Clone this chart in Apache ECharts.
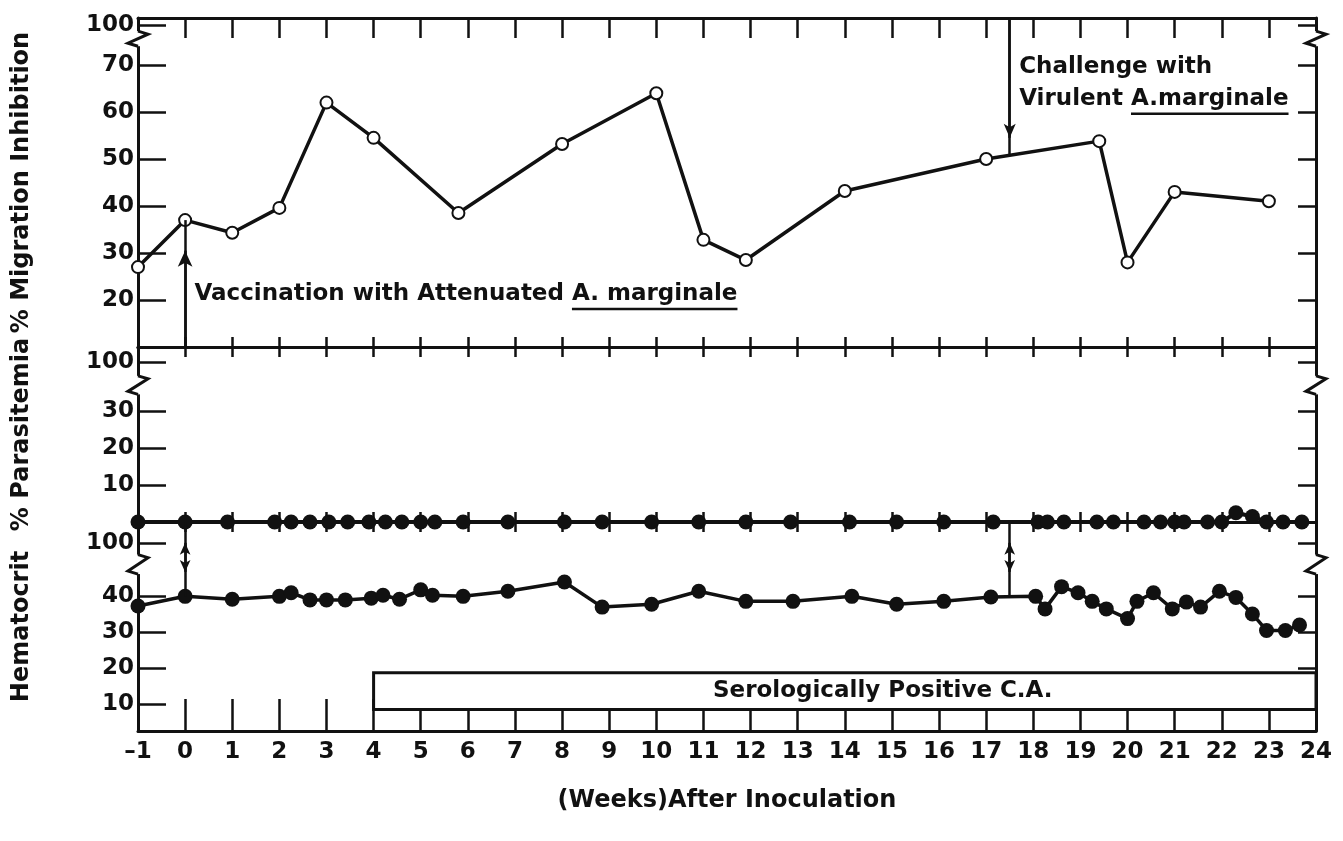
<!DOCTYPE html>
<html><head><meta charset="utf-8">
<script src="https://cdn.jsdelivr.net/npm/echarts@6/dist/echarts.min.js"></script>
<style>html,body{margin:0;padding:0;background:#fff}#c{width:1343px;height:841px}</style>
</head><body><div id="c"></div>
<script>
// ---- data ----
const weekTicks = [-1,0,1,2,3,4,5,6,7,8,9,10,11,12,13,14,15,16,17,18,19,20,21,22,23,24];

const migWeeks  = [-1, 0, 1, 2, 3, 4, 5.8, 8, 10, 11, 11.9, 14, 17, 19.4, 20, 21, 23];
const migValues = [27, 37, 34.3, 39.6, 62, 54.5, 38.5, 53.2, 64, 32.8, 28.5, 43.2, 50, 53.8, 28, 43, 41];

const parWeeks  = [-1, 0, 0.9, 1.9, 2.25, 2.65, 3.05, 3.45, 3.9, 4.25, 4.6, 5, 5.3, 5.9, 6.85, 8.05, 8.85, 9.9, 10.9, 11.9,
                   12.85, 14.1, 15.1, 16.1, 17.15, 18.1, 18.3, 18.65, 19.35, 19.7, 20.35, 20.7, 21, 21.2, 21.7, 22, 22.3, 22.65, 22.95, 23.3, 23.7];
const parValues = [0, 0, 0, 0, 0, 0, 0, 0, 0, 0, 0, 0, 0, 0, 0, 0, 0, 0, 0, 0,
                   0, 0, 0, 0, 0, 0, 0, 0, 0, 0, 0, 0, 0, 0, 0, 0, 2.5, 1.5, 0, 0, 0];

const hctWeeks  = [-1, 0, 1, 2, 2.25, 2.65, 3, 3.4, 3.95, 4.2, 4.55, 5, 5.25, 5.9, 6.85, 8.05, 8.85, 9.9, 10.9, 11.9,
                   12.9, 14.15, 15.1, 16.1, 17.1, 18.05, 18.25, 18.6, 18.95, 19.25, 19.55, 20, 20.2, 20.55, 20.95,
                   21.25, 21.55, 21.95, 22.3, 22.65, 22.95, 23.35, 23.65];
const hctValues = [37.3, 40, 39.2, 40, 41, 39, 39, 39, 39.5, 40.3, 39.2, 41.8, 40.3, 40, 41.4, 44, 37, 37.8, 41.4, 38.6,
                   38.6, 40, 37.8, 38.6, 39.8, 40, 36.5, 42.7, 41, 38.6, 36.5, 33.8, 38.6, 41, 36.5,
                   38.4, 37, 41.4, 39.7, 35.1, 30.5, 30.5, 32];

const migTicks = [20, 30, 40, 50, 60, 70, 78.5];   // 78.5 is the broken-axis "100"
const parTicks = [10, 20, 30, 43.2];               // 43.2 -> "100"
const hctTicks = [10, 20, 30, 40, 54.9];           // 54.9 -> "100"
const serologyStart = 4, serologyEnd = 24;

// ---- chart ----
const FONT = '"DejaVu Sans", sans-serif';
const INK = '#111';
const chart = echarts.init(document.getElementById('c'));
const pairs = (xs, ys) => xs.map((x, i) => [x, ys[i]]);

function xAx(grid, pos, tickLen, showLabel) {
  return {
    type: 'value', gridIndex: grid, position: pos, min: -1, max: 24, interval: 1,
    axisLine: { show: true, onZero: false, lineStyle: { color: INK, width: 3 } },
    axisTick: { show: true, inside: true, length: tickLen, lineStyle: { color: INK, width: 2.5 } },
    axisLabel: showLabel ? {
      show: true, color: INK, fontFamily: FONT, fontWeight: 'bold', fontSize: 23, margin: 10,
      formatter: v => v < 0 ? '\u2013' + Math.abs(v) : String(v)
    } : { show: false },
    splitLine: { show: false }
  };
}
function yAx(grid, pos, min, max, ticks, tickLen, showLabel, name) {
  const top = ticks[ticks.length - 1];
  return {
    type: 'value', gridIndex: grid, position: pos, min: min, max: max,
    name: name || '', nameLocation: 'middle', nameGap: 104,
    nameTextStyle: { color: INK, fontFamily: FONT, fontWeight: 'bold', fontSize: 24 },
    axisLine: { show: true, onZero: false, lineStyle: { color: INK, width: 3 } },
    axisTick: { show: true, inside: true, length: tickLen, customValues: ticks, lineStyle: { color: INK, width: 2.5 } },
    axisLabel: showLabel ? {
      show: true, customValues: ticks, color: INK, fontFamily: FONT, fontWeight: 'bold', fontSize: 23, margin: 4,
      formatter: v => (v === top ? '100' : String(v))
    } : { show: false },
    splitLine: { show: false }
  };
}

const grids = [
  { left: 138, right: 27, top: 18, height: 329 },
  { left: 138, right: 27, top: 347, height: 175 },
  { left: 138, right: 27, top: 522, height: 209 }
];

const lineStyle = { color: INK, width: 3.5 };
const mlStyle = { color: INK, width: 2.5, type: 'solid' };

chart.setOption({
  animation: false,
  backgroundColor: '#fff',
  grid: grids,
  xAxis: [
    xAx(0, 'top', 20, false),
    xAx(0, 'bottom', 10, false),
    xAx(1, 'top', 10, false),
    xAx(1, 'bottom', 10, false),
    xAx(2, 'top', 10, false),
    Object.assign(xAx(2, 'bottom', 32, true), {
      name: '(Weeks)After Inoculation', nameLocation: 'middle', nameGap: 58,
      nameTextStyle: { color: INK, fontFamily: FONT, fontWeight: 'bold', fontSize: 24 }
    })
  ],
  yAxis: [
    yAx(0, 'left', 10, 80, migTicks, 28, true, '% Migration Inhibition'),
    yAx(0, 'right', 10, 80, migTicks, 18, false),
    yAx(1, 'left', 0, 47.3, parTicks, 28, true, '% Parasitemia'),
    yAx(1, 'right', 0, 47.3, parTicks, 18, false),
    yAx(2, 'left', 2.5, 60.7, hctTicks, 28, true, 'Hematocrit'),
    yAx(2, 'right', 2.5, 60.7, hctTicks, 18, false)
  ],
  series: [
    {
      type: 'line', xAxisIndex: 0, yAxisIndex: 0, data: pairs(migWeeks, migValues),
      symbol: 'emptyCircle', symbolSize: 12, clip: false,
      lineStyle: lineStyle, itemStyle: { color: INK, borderWidth: 2.5 },
      markLine: {
        silent: true, symbol: 'none', label: { show: false }, lineStyle: mlStyle,
        data: [
          [{ coord: [0, 10] }, { coord: [0, 37] }],
          [{ coord: [0, 10], symbol: 'none' }, { coord: [0, 30.5], symbol: 'arrow', symbolSize: [11, 16] }],
          [{ coord: [17.5, 80] }, { coord: [17.5, 50.8] }],
          [{ coord: [17.5, 80], symbol: 'none' }, { coord: [17.5, 54.5], symbol: 'arrow', symbolSize: [9, 14] }]
        ]
      }
    },
    {
      type: 'line', xAxisIndex: 3, yAxisIndex: 2, data: pairs(parWeeks, parValues),
      symbol: 'circle', symbolSize: 15, clip: false,
      lineStyle: { color: INK, width: 4 }, itemStyle: { color: INK }
    },
    {
      type: 'line', xAxisIndex: 5, yAxisIndex: 4, data: pairs(hctWeeks, hctValues),
      symbol: 'circle', symbolSize: 15, clip: false,
      lineStyle: lineStyle, itemStyle: { color: INK },
      markLine: {
        silent: true, symbol: 'none', label: { show: false }, lineStyle: mlStyle,
        data: [
          [{ coord: [0, 60.7] }, { coord: [0, 40] }],
          [{ coord: [0, 54.9], symbol: 'arrow', symbolSize: [8, 12] }, { coord: [0, 46.8], symbol: 'arrow', symbolSize: [8, 12] }],
          [{ coord: [17.5, 60.7] }, { coord: [17.5, 40] }],
          [{ coord: [17.5, 54.9], symbol: 'arrow', symbolSize: [8, 12] }, { coord: [17.5, 46.8], symbol: 'arrow', symbolSize: [8, 12] }]
        ]
      },
      markArea: {
        silent: true,
        itemStyle: { color: '#fff', borderColor: INK, borderWidth: 3 },
        label: { show: true, position: 'inside', offset: [38, 0], color: INK, fontFamily: FONT, fontWeight: 'bold', fontSize: 23 },
        data: [[{ name: 'Serologically Positive C.A.', coord: [serologyStart, 8.5] }, { coord: [serologyEnd, 18.7] }]]
      }
    }
  ]
});

// ---- annotations (placed through the axes) ----
const ctx = document.createElement('canvas').getContext('2d');
const ANN_FONT = 'bold 23px "DejaVu Sans"';
ctx.font = ANN_FONT;
const w = t => ctx.measureText(t).width;
const px = (g, pt) => chart.convertToPixel({ gridIndex: g }, pt);

const graphics = [];
function addText(g, pt, before, underlined) {
  const p = px(g, pt);
  graphics.push({ type: 'text', x: p[0], y: p[1], z: 50,
    style: { text: before + underlined, font: ANN_FONT, fill: INK, verticalAlign: 'middle' } });
  if (underlined) {
    const x1 = p[0] + w(before), x2 = p[0] + w(before + underlined);
    graphics.push({ type: 'line', z: 50, shape: { x1: x1, y1: p[1] + 15, x2: x2, y2: p[1] + 15 },
      style: { stroke: INK, lineWidth: 2.5 } });
  }
}
addText(0, [0.2, 21.3], 'Vaccination with Attenuated ', 'A. marginale');
addText(0, [17.7, 69.6], 'Challenge with', '');
addText(0, [17.7, 62.8], 'Virulent ', 'A.marginale');

// axis break zigzags on both vertical axes
const breaks = [[0, 77.2, 74.0], [2, 39.5, 34.5], [4, 51.6, 46.2]];
const xl = chart.convertToPixel({ xAxisIndex: 0 }, -1);
const xr = chart.convertToPixel({ xAxisIndex: 0 }, 24);
breaks.forEach(([yi, a, b]) => {
  const y1 = chart.convertToPixel({ yAxisIndex: yi }, a);
  const y2 = chart.convertToPixel({ yAxisIndex: yi }, b);
  [xl, xr].forEach(x => {
    graphics.push({ type: 'rect', z: 60, shape: { x: x - 3, y: y1, width: 6, height: y2 - y1 }, style: { fill: '#fff' } });
    graphics.push({ type: 'polyline', z: 61,
      shape: { points: [[x, y1], [x + 10, y1 + 3], [x - 10, y2 - 3], [x, y2]] },
      style: { stroke: INK, lineWidth: 3, fill: null } });
  });
});
chart.setOption({ graphic: graphics });
</script>
</body></html>
